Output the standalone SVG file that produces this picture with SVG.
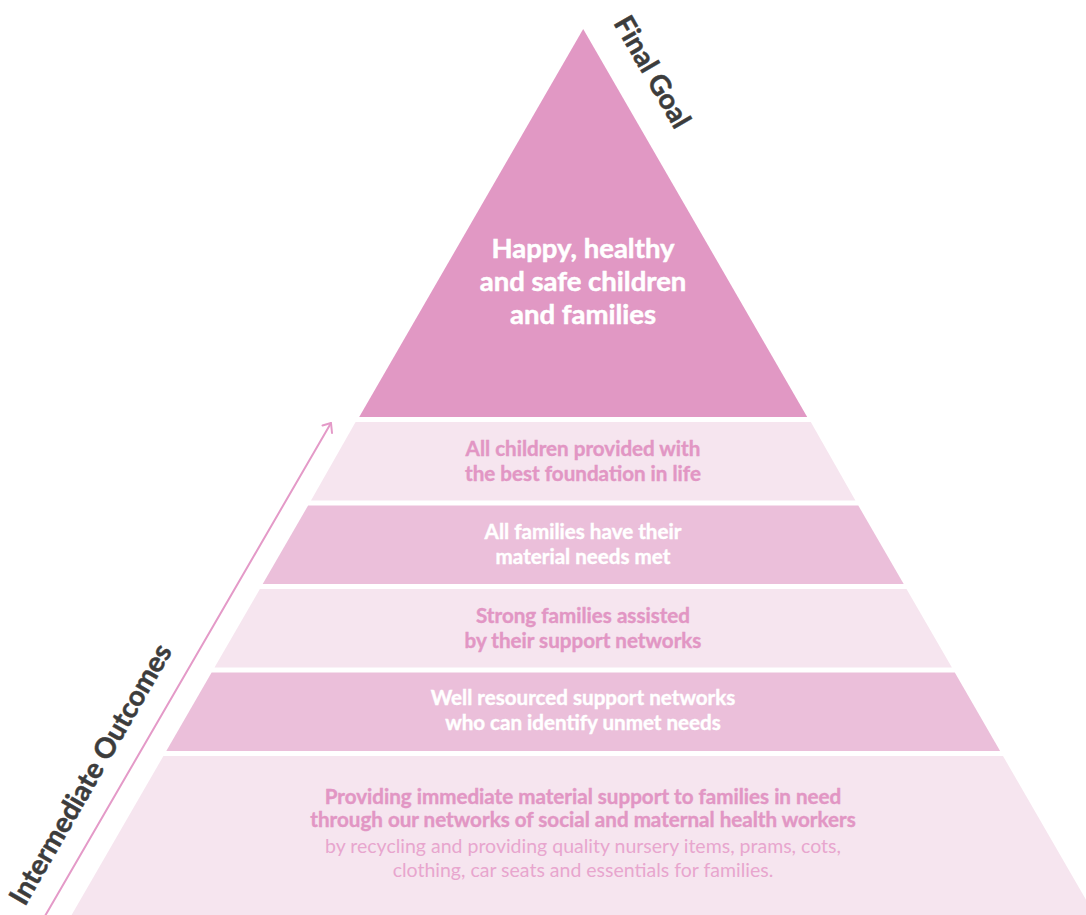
<svg xmlns="http://www.w3.org/2000/svg" width="1086" height="915" viewBox="0 0 1086 915">
  <defs>
    <style>
      .goal { fill: #E198C4; }
      .light { fill: #F6E5EF; }
      .mid { fill: #EBBFDA; }
      .t { font-family: Lato, "Noto Sans", "Liberation Sans", sans-serif; text-anchor: middle; }
      .title { font-size: 27.5px; font-weight: 700; fill: #FFFFFF; stroke: #FFFFFF; stroke-width: 0.5px; }
      .bp { font-size: 20.6px; font-weight: 700; fill: #E296C4; stroke: #E296C4; stroke-width: 0.4px; }
      .bw { font-size: 20.6px; font-weight: 700; fill: #FFFFFF; stroke: #FFFFFF; stroke-width: 0.4px; }
      .rp { font-size: 19.5px; font-weight: 400; fill: #E8A6CE; }
      .side { font-family: Lato, "Noto Sans", "Liberation Sans", sans-serif; font-size: 28px; font-weight: 700; fill: #3C3C3C; stroke: #3C3C3C; stroke-width: 0.5px; }
      .arrow { fill: none; stroke: #E49AC8; stroke-width: 2; stroke-linecap: round; stroke-linejoin: round; }
    </style>
  </defs>
  <rect width="1086" height="915" fill="#FFFFFF"/>

  <g id="final-goal">
    <polygon class="goal" points="583.2,29 807.2,417 359.2,417"/>
    <text class="t title" x="583" y="258">Happy, healthy</text>
    <text class="t title" x="583" y="291">and safe children</text>
    <text class="t title" x="583" y="323.5">and families</text>
  </g>

  <g id="outcome-1">
    <polygon class="light" points="355.6,422 810.8,422 855.4,500.5 311.0,500.5"/>
    <text class="t bp" x="583" y="456">All children provided with</text>
    <text class="t bp" x="583" y="481">the best foundation in life</text>
  </g>

  <g id="outcome-2">
    <polygon class="mid" points="308.1,505.5 858.3,505.5 903.7,584 262.7,584"/>
    <text class="t bw" x="583" y="539">All families have their</text>
    <text class="t bw" x="583" y="563.5">material needs met</text>
  </g>

  <g id="outcome-3">
    <polygon class="light" points="259.9,589 906.5,589 951.9,667.5 214.5,667.5"/>
    <text class="t bp" x="583" y="623">Strong families assisted</text>
    <text class="t bp" x="583" y="648">by their support networks</text>
  </g>

  <g id="outcome-4">
    <polygon class="mid" points="211.6,672.5 954.8,672.5 1000.1,751 166.3,751"/>
    <text class="t bw" x="583" y="705">Well resourced support networks</text>
    <text class="t bw" x="583" y="730">who can identify unmet needs</text>
  </g>

  <g id="outcome-5">
    <polygon class="light" points="163.4,756 1003.0,756 1094.8,915 71.6,915"/>
    <text class="t bp" x="583" y="803.5">Providing immediate material support to families in need</text>
    <text class="t bp" x="583" y="827">through our networks of social and maternal health workers</text>
    <text class="t rp" x="583" y="853">by recycling and providing quality nursery items, prams, cots,</text>
    <text class="t rp" x="583" y="877">clothing, car seats and essentials for families.</text>
  </g>

  <g id="label-final-goal">
    <text class="side" transform="translate(613,23) rotate(60)">Final Goal</text>
  </g>

  <g id="label-intermediate">
    <text class="side" transform="translate(25,907) rotate(-60)">Intermediate Outcomes</text>
  </g>

  <g id="connectors">
    <line class="arrow" x1="45" y1="916" x2="331" y2="423"/>
    <polyline class="arrow" points="322.5,425.5 331,423 332,433"/>
  </g>
</svg>
